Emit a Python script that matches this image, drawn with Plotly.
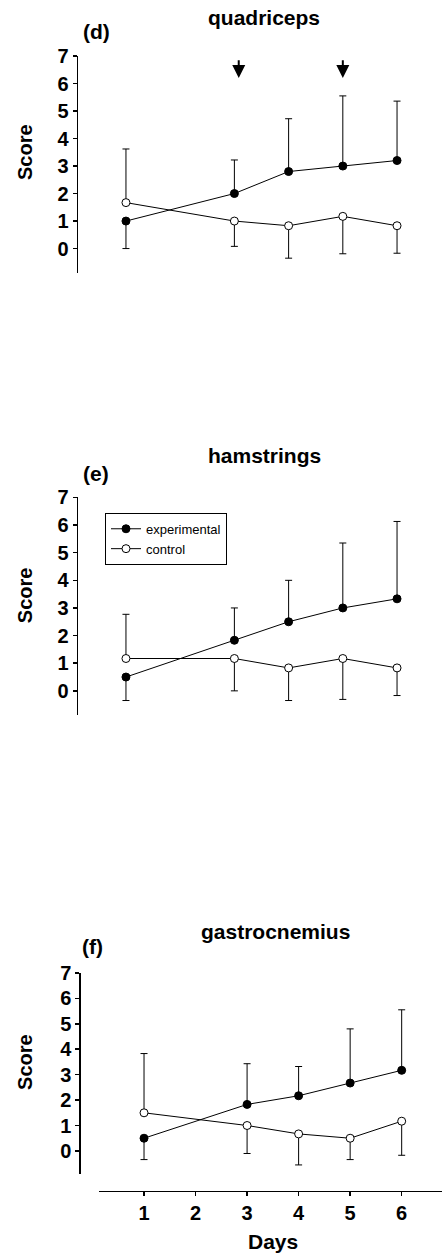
import plotly.graph_objects as go

W, H = 442, 1255

days = [1, 3, 4, 5, 6]
x_tick_labels = ["1", "2", "3", "4", "5", "6"]
x_tick_vals = [1, 2, 3, 4, 5, 6]
y_tick_vals = [0, 1, 2, 3, 4, 5, 6, 7]

panel_names = ["quadriceps", "hamstrings", "gastrocnemius"]
panel_letters = ["(d)", "(e)", "(f)"]

# quadriceps
quad_exp = [1.0, 2.0, 2.8, 3.0, 3.2]
quad_exp_up = [0.0, 1.22, 1.92, 2.55, 2.16]
quad_exp_down = [1.0, 0.0, 0.0, 0.0, 0.0]
quad_ctl = [1.67, 1.0, 0.83, 1.17, 0.83]
quad_ctl_up = [1.95, 0.0, 0.0, 0.0, 0.0]
quad_ctl_down = [0.0, 0.92, 1.18, 1.36, 1.0]

# hamstrings
ham_exp = [0.5, 1.83, 2.5, 3.0, 3.33]
ham_exp_up = [0.0, 1.17, 1.5, 2.35, 2.8]
ham_exp_down = [0.85, 0.0, 0.0, 0.0, 0.0]
ham_ctl = [1.17, 1.17, 0.83, 1.17, 0.83]
ham_ctl_up = [1.6, 0.0, 0.0, 0.0, 0.0]
ham_ctl_down = [0.0, 1.17, 1.18, 1.48, 1.0]

# gastrocnemius
gas_exp = [0.5, 1.83, 2.17, 2.67, 3.17]
gas_exp_up = [0.0, 1.6, 1.15, 2.13, 2.38]
gas_exp_down = [0.84, 0.0, 0.0, 0.0, 0.0]
gas_ctl = [1.5, 1.0, 0.67, 0.5, 1.17]
gas_ctl_up = [2.33, 0.0, 0.0, 0.0, 0.0]
gas_ctl_down = [0.0, 1.1, 1.22, 0.84, 1.34]

arrow_days = [3.08, 5.0]
arrow_tip = 6.2
arrow_tail = 6.9

FONT = "Arial, Liberation Sans, sans-serif"

# vertical correction for rendering offset observed in screenshots
Y_OFF = 11.0
Y_SCALE = 0.991

def px_x(p):
    return p / W

def px_y(p):
    q = (p - Y_OFF) / Y_SCALE
    return 1 - q / H

fig = go.Figure()

panels = [
    (quad_exp, quad_exp_up, quad_exp_down, quad_ctl, quad_ctl_up, quad_ctl_down, "x", "y", False),
    (ham_exp, ham_exp_up, ham_exp_down, ham_ctl, ham_ctl_up, ham_ctl_down, "x2", "y2", True),
    (gas_exp, gas_exp_up, gas_exp_down, gas_ctl, gas_ctl_up, gas_ctl_down, "x3", "y3", False),
]

for ex, exu, exd, ct, ctu, ctd, xa, ya, sl in panels:
    fig.add_trace(go.Scatter(
        x=days, y=ct, mode="lines+markers", name="control",
        xaxis=xa, yaxis=ya, showlegend=sl, legendrank=2,
        line=dict(color="black", width=1),
        marker=dict(symbol="circle", size=8, color="white", line=dict(color="black", width=1)),
        error_y=dict(type="data", symmetric=False, array=ctu, arrayminus=ctd,
                     color="black", thickness=1, width=3.5),
    ))
    fig.add_trace(go.Scatter(
        x=days, y=ex, mode="lines+markers", name="experimental",
        xaxis=xa, yaxis=ya, showlegend=sl, legendrank=1,
        line=dict(color="black", width=1),
        marker=dict(symbol="circle", size=8, color="black", line=dict(color="black", width=1)),
        error_y=dict(type="data", symmetric=False, array=exu, arrayminus=exd,
                     color="black", thickness=1, width=3.5),
    ))

yax_common = dict(
    showline=True, linecolor="black", linewidth=1.5,
    ticks="outside", ticklen=4, tickwidth=1.5, tickcolor="black",
    tickvals=y_tick_vals, showgrid=False, zeroline=False,
    tickfont=dict(family=FONT, size=20, color="black", weight="bold"),
    fixedrange=True,
)

unit_de = 54.26
layout = dict(
    width=W, height=H, margin=dict(l=0, r=0, t=0, b=0),
    paper_bgcolor="white", plot_bgcolor="white",
    xaxis=dict(domain=[px_x(78), 1], range=[1 - 48 / unit_de, 6 + 45 / unit_de],
               visible=False, anchor="y"),
    yaxis=dict(domain=[px_y(272.7), px_y(56)], range=[-0.88, 7], anchor="x", **yax_common),
    xaxis2=dict(domain=[px_x(78), 1], range=[1 - 48 / unit_de, 6 + 45 / unit_de],
                visible=False, anchor="y2"),
    yaxis2=dict(domain=[px_y(715), px_y(497.3)], range=[-0.88, 7], anchor="x2", **yax_common),
    xaxis3=dict(domain=[px_x(99), 1], range=[1 - 45 / 51.5, 6 + 40.3 / 51.5],
                anchor="free", position=px_y(1190.7),
                showline=True, linecolor="black", linewidth=1.5,
                ticks="outside", ticklen=4, tickwidth=1.5, tickcolor="black",
                tickvals=x_tick_vals, ticktext=x_tick_labels,
                showgrid=False, zeroline=False,
                tickfont=dict(family=FONT, size=20, color="black", weight="bold")),
    yaxis3=dict(domain=[px_y(1173.3), px_y(972.7)], range=[-0.89, 7],
                anchor="free", position=px_x(79.3), **yax_common),
    showlegend=True,
    legend=dict(x=px_x(105), y=px_y(512.7), xanchor="left", yanchor="top",
                bgcolor="white", bordercolor="black", borderwidth=1,
                font=dict(family=FONT, size=13, color="black"),
                tracegroupgap=0, itemwidth=30),
)
fig.update_layout(**layout)

anns = []
title_pos = [(264, 17), (264, 455), (275, 931.7)]
letter_pos = [(96, 31), (96, 473.3), (92, 946.7)]
score_pos = [(25, 152), (25, 595), (25, 1061.7)]
for name, (tx, ty) in zip(panel_names, title_pos):
    anns.append(dict(xref="paper", yref="paper", x=px_x(tx), y=px_y(ty), text=name,
                     showarrow=False, xanchor="center", yanchor="middle",
                     font=dict(family=FONT, size=21, color="black", weight="bold")))
for lt, (tx, ty) in zip(panel_letters, letter_pos):
    anns.append(dict(xref="paper", yref="paper", x=px_x(tx), y=px_y(ty), text=lt,
                     showarrow=False, xanchor="center", yanchor="middle",
                     font=dict(family=FONT, size=21, color="black", weight="bold")))
for (tx, ty) in score_pos:
    anns.append(dict(xref="paper", yref="paper", x=px_x(tx), y=px_y(ty), text="Score",
                     showarrow=False, xanchor="center", yanchor="middle", textangle=-90,
                     font=dict(family=FONT, size=20, color="black", weight="bold")))
anns.append(dict(xref="paper", yref="paper", x=px_x(273), y=px_y(1241), text="Days",
                 showarrow=False, xanchor="center", yanchor="middle",
                 font=dict(family=FONT, size=21, color="black", weight="bold")))
for d in arrow_days:
    anns.append(dict(xref="x", yref="y", x=d, y=arrow_tip, axref="x", ayref="y",
                     ax=d, ay=arrow_tail, text="", showarrow=True,
                     arrowhead=2, arrowsize=1.3, arrowwidth=2, arrowcolor="black"))
fig.update_layout(annotations=anns)

fig.write_html("out.html", config={"displayModeBar": False, "staticPlot": True},
               post_script="document.body.style.margin='0';document.body.style.padding='0';")
